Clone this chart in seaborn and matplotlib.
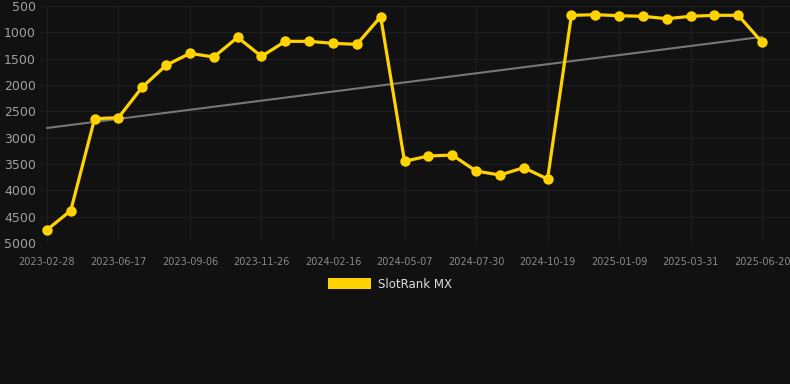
import numpy as np
import pandas as pd
import matplotlib
matplotlib.use("Agg")
import matplotlib.pyplot as plt
from matplotlib.patches import Patch
import seaborn as sns

# --- DATA ---
tick_labels = ["2023-02-28", "2023-06-17", "2023-09-06", "2023-11-26", "2024-02-16",
               "2024-05-07", "2024-07-30", "2024-10-19", "2025-01-09", "2025-03-31",
               "2025-06-20"]
ranks = [4750, 4385, 2640, 2620, 2040, 1625, 1400, 1468, 1095, 1456,
         1171, 1171, 1209, 1228, 703, 3449, 3348, 3330, 3633, 3709,
         3570, 3785, 677, 665, 684, 696, 741, 696, 677, 677,
         1190]
series_name = "SlotRank MX"

BG = "#111111"
GOLD = "#FFD200"

sns.set_theme(style="dark")
plt.rcParams["font.family"] = ["DejaVu Sans"]

df = pd.DataFrame({"idx": np.arange(len(ranks)), "rank": ranks})

fig = plt.figure(figsize=(7.9, 3.84), dpi=100, facecolor=BG)
ax = fig.add_axes([40 / 790, 1 - 243 / 384, 750 / 790, 237 / 384])
ax.set_facecolor(BG)

# trend line (linear fit)
sns.regplot(data=df, x="idx", y="rank", scatter=False, ci=None, truncate=True,
            line_kws={"color": "#777777", "linewidth": 1.5}, ax=ax)

sns.lineplot(data=df, x="idx", y="rank", color=GOLD, linewidth=2.3,
             marker="o", markersize=7.5, markeredgewidth=0, ax=ax, clip_on=False)

ax.set_xlim(-0.29, 31.17)
ax.set_ylim(5000, 500)
ax.set_yticks(np.arange(500, 5001, 500))
ax.set_xticks(np.arange(0, len(ranks), 3))
ax.set_xticklabels(tick_labels)
ax.tick_params(axis="y", labelsize=9, labelcolor="#a0a0a0", length=0, pad=3)
ax.tick_params(axis="x", labelsize=7, labelcolor="#8a8a8a", length=0, pad=10)
ax.grid(True, color="#1e1e1e", linewidth=0.8)
ax.set_xlabel("")
ax.set_ylabel("")
for s in ax.spines.values():
    s.set_visible(False)

fig.legend(handles=[Patch(facecolor=GOLD, edgecolor="none", label=series_name)],
           loc="center", bbox_to_anchor=(390 / 790, 1 - 284 / 384), frameon=False,
           fontsize=8.5, labelcolor="#dddddd", handlelength=3.6, handleheight=1.0,
           handletextpad=0.6)

fig.savefig("out.png", dpi=100, facecolor=BG)
